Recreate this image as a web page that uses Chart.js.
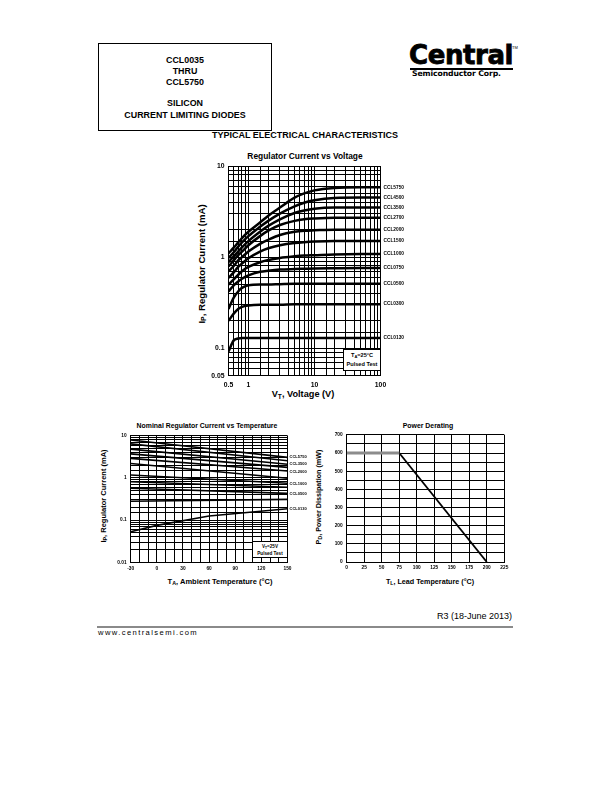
<!DOCTYPE html>
<html>
<head>
<meta charset="utf-8">
<script src="https://cdn.jsdelivr.net/npm/chart.js@4.4.1/dist/chart.umd.min.js"></script>
<style>
  html,body{margin:0;padding:0;background:#fff;}
  body{width:612px;height:792px;position:relative;overflow:hidden;font-family:"Liberation Sans",Arial,sans-serif;color:#000;}
  .abs{position:absolute;white-space:nowrap;}
  .c{transform:translate(-50%,-50%);}
  .rot{transform:translate(-50%,-50%) rotate(-90deg);}
  .b{font-weight:bold;}
  sub{font-size:72%;vertical-align:-0.25em;line-height:0;}
  canvas{position:absolute;}
  .box{position:absolute;background:#fff;border:1px solid #000;box-sizing:border-box;font-weight:bold;text-align:center;}
</style>
</head>
<body>

<!-- header box -->
<div class="abs" style="left:98px;top:43px;width:174px;height:88px;border:1px solid #000;box-sizing:border-box;"></div>
<div class="abs c b" style="left:185px;top:60px;font-size:8.9px;">CCL0035</div>
<div class="abs c b" style="left:185px;top:71px;font-size:8.9px;">THRU</div>
<div class="abs c b" style="left:185px;top:82px;font-size:8.9px;">CCL5750</div>
<div class="abs c b" style="left:185px;top:103px;font-size:8.9px;">SILICON</div>
<div class="abs c b" style="left:185px;top:114.5px;font-size:8.9px;">CURRENT LIMITING DIODES</div>

<!-- logo -->
<div class="abs" style="left:409px;top:40px;font-family:'DejaVu Sans';font-weight:bold;font-size:26px;letter-spacing:-0.4px;-webkit-text-stroke:0.8px #000;">Central</div>
<div class="abs" style="left:512px;top:45px;font-size:4px;">TM</div>
<div class="abs" style="left:410px;top:68px;width:103px;height:1.5px;background:#000;"></div>
<div class="abs" style="left:412px;top:69px;font-family:'DejaVu Sans';font-size:7.7px;font-weight:bold;letter-spacing:-0.1px;">Semiconductor Corp.</div>

<div class="abs c b" style="left:305px;top:135px;font-size:9px;">TYPICAL ELECTRICAL CHARACTERISTICS</div>

<!-- top chart texts -->
<div class="abs c b" style="left:305px;top:156px;font-size:8.4px;">Regulator Current vs Voltage</div>
<div class="abs c b" style="left:303px;top:394px;font-size:9.2px;">V<sub>T</sub>, Voltage (V)</div>
<div class="abs rot b" style="left:201px;top:264px;font-size:9.6px;">I<sub>P</sub>, Regulator Current (mA)</div>

<!-- bottom left texts -->
<div class="abs c b" style="left:207px;top:425px;font-size:6.9px;">Nominal Regulator Current vs Temperature</div>
<div class="abs c b" style="left:220px;top:581px;font-size:7.5px;">T<sub>A</sub>, Ambient Temperature (°C)</div>
<div class="abs rot b" style="left:103px;top:496px;font-size:7.5px;">I<sub>P</sub>, Regulator Current (mA)</div>

<!-- bottom right texts -->
<div class="abs c b" style="left:428px;top:425px;font-size:6.9px;">Power Derating</div>
<div class="abs c b" style="left:430px;top:581px;font-size:7.2px;">T<sub>L</sub>, Lead Temperature (°C)</div>
<div class="abs rot b" style="left:318px;top:497px;font-size:7.2px;">P<sub>D</sub>, Power Dissipation (mW)</div>

<canvas id="cTop" width="230" height="250" style="left:190px;top:150px;"></canvas>
<canvas id="cTemp" width="225" height="150" style="left:100px;top:428px;"></canvas>
<canvas id="cPow" width="190" height="150" style="left:325px;top:428px;"></canvas>

<div class="box" style="left:343px;top:349px;width:38px;height:22px;font-size:5.6px;line-height:9px;padding-top:1px;">T<sub>A</sub>=25°C<br>Pulsed Test</div>
<div class="box" style="left:252px;top:541px;width:36px;height:17px;font-size:4.6px;line-height:7px;padding-top:1px;">V<sub>T</sub>=25V<br>Pulsed Test</div>

<!-- footer -->
<div class="abs" style="right:100px;top:611px;font-size:9px;">R3 (18-June 2013)</div>
<div class="abs" style="left:97px;top:626px;width:416px;height:2px;background:#8a8a8a;"></div>
<div class="abs" style="left:98px;top:628px;font-size:7.6px;letter-spacing:1.4px;">www.centralsemi.com</div>

<script>
// ---------- DATA ----------
// Regulator Current vs Voltage (mA) at voltages (V)
const voltages = [0.5, 0.6, 0.7, 0.8, 1, 1.5, 2, 3, 5, 7, 10, 20, 50, 100];
const ccl5750 = [1.1, 1.27, 1.45, 1.62, 1.9, 2.4, 2.85, 3.5, 4.5, 5.0, 5.4, 5.75, 5.85, 5.85];
const ccl4500 = [0.98, 1.13, 1.3, 1.45, 1.7, 2.15, 2.5, 3.0, 3.6, 3.95, 4.2, 4.45, 4.5, 4.5];
const ccl3500 = [0.88, 1.02, 1.15, 1.28, 1.5, 1.9, 2.2, 2.6, 3.05, 3.25, 3.4, 3.5, 3.5, 3.5];
const ccl2700 = [0.79, 0.92, 1.05, 1.15, 1.35, 1.7, 1.95, 2.25, 2.5, 2.6, 2.65, 2.7, 2.7, 2.7];
const ccl2000 = [0.7, 0.8, 0.92, 1.0, 1.15, 1.4, 1.55, 1.75, 1.9, 1.95, 1.97, 2.0, 2.0, 2.0];
const ccl1500 = [0.59, 0.68, 0.78, 0.85, 0.97, 1.15, 1.25, 1.35, 1.43, 1.46, 1.48, 1.5, 1.5, 1.5];
const ccl1000 = [0.5, 0.57, 0.64, 0.7, 0.78, 0.88, 0.93, 0.98, 1.02, 1.04, 1.05, 1.07, 1.08, 1.08];
const ccl0750 = [0.42, 0.49, 0.54, 0.58, 0.63, 0.69, 0.71, 0.73, 0.74, 0.745, 0.75, 0.755, 0.76, 0.76];
const ccl0500 = [0.27, 0.36, 0.42, 0.46, 0.49, 0.5, 0.5, 0.505, 0.51, 0.51, 0.51, 0.51, 0.51, 0.51];
const ccl0300 = [0.2, 0.24, 0.27, 0.285, 0.295, 0.3, 0.3, 0.3, 0.305, 0.305, 0.305, 0.305, 0.305, 0.305];
const ccl0130 = [0.092, 0.122, 0.128, 0.13, 0.13, 0.13, 0.13, 0.13, 0.13, 0.13, 0.13, 0.13, 0.13, 0.13];
const vcCurves = [ccl5750, ccl4500, ccl3500, ccl2700, ccl2000, ccl1500, ccl1000, ccl0750, ccl0500, ccl0300, ccl0130];
const vcLabels = ["CCL5750", "CCL4500", "CCL3500", "CCL2700", "CCL2000", "CCL1500", "CCL1000", "CCL0750", "CCL0500", "CCL0300", "CCL0130"];
const vcLabelLevels = [5.8, 4.5, 3.5, 2.7, 2.0, 1.5, 1.08, 0.76, 0.51, 0.305, 0.13];
const vTickLabels = [0.5, 1, 10, 100];
const iTickLabels = [0.05, 0.1, 1, 10];

// Nominal Regulator Current vs Temperature (mA), straight segments -30..150 °C
const tempEnds = [-30, 150];
const tcLines = [
  [7.9, 3.07], [6.4, 2.56], [4.8, 2.1], [3.7, 1.78], [2.9, 1.46], [2.2, 0.98],
  [1.17, 0.745], [0.81, 0.6], [0.57, 0.43], [0.28, 0.31]
];
const tempLow = [-30, 0, 60, 150];
const tcLow = [0.053, 0.075, 0.125, 0.186];
const tcLabels = ["CCL5750", "CCL3500", "CCL2000", "CCL1000", "CCL0500", "CCL0130"];
const tcLabelLevels = [3.07, 2.1, 1.42, 0.72, 0.41, 0.186];
const tTickLabels = [-30, 0, 30, 60, 90, 120, 150];
const tcITickLabels = [0.01, 0.1, 1, 10];

// Power Derating
const leadTemp = [0, 75, 200];
const powerMW = [600, 600, 0];

// ---------- helpers ----------
const near = (v, arr) => arr.some(a => Math.abs(v - a) < 1e-9 * Math.max(1, Math.abs(a)) + 1e-12);
const fmt = v => String(+v.toPrecision(6));
const FONT = "'Liberation Sans', Arial, sans-serif";
Chart.defaults.font.family = FONT;
Chart.defaults.color = '#000';

function labelPlugin(id, labels, levels, size, dx) {
  return {
    id,
    afterDraw(chart) {
      const {ctx, chartArea, scales} = chart;
      ctx.save();
      ctx.fillStyle = '#000';
      ctx.font = 'bold ' + size + 'px ' + FONT;
      ctx.textBaseline = 'middle';
      ctx.textAlign = 'left';
      labels.forEach((t, i) => {
        ctx.fillText(t, chartArea.right + dx, scales.y.getPixelForValue(levels[i]));
      });
      ctx.restore();
    }
  };
}

const gridCfg = {color: '#000', lineWidth: 1, drawTicks: false};
const borderCfg = {color: '#000', width: 1};
const baseOpts = {
  responsive: false, animation: false, events: [],
  plugins: {legend: {display: false}, tooltip: {enabled: false}, title: {display: false}},
  elements: {point: {radius: 0}}
};

// ---------- top chart ----------
new Chart(document.getElementById('cTop'), {
  type: 'line',
  data: {
    datasets: vcCurves.map((c, i) => ({
      label: vcLabels[i],
      data: voltages.map((v, j) => ({x: v, y: c[j]})),
      borderColor: '#000', borderWidth: 2.5, pointRadius: 0,
      cubicInterpolationMode: 'monotone', fill: false
    }))
  },
  options: Object.assign({}, baseOpts, {
    layout: {padding: {left: 0, top: 16, right: 39.5, bottom: 0}},
    scales: {
      x: {
        type: 'logarithmic', min: 0.5, max: 100,
        afterFit: s => { s.height = 24.3; },
        grid: gridCfg, border: borderCfg,
        ticks: {autoSkip: false, maxRotation: 0, padding: 5, font: {size: 6.8, weight: 'bold'},
          callback: v => near(v, vTickLabels) ? fmt(v) : ''}
      },
      y: {
        type: 'logarithmic', min: 0.05, max: 10,
        afterFit: s => { s.width = 38.5; },
        grid: gridCfg, border: borderCfg,
        ticks: {autoSkip: false, padding: 4, font: {size: 6.8, weight: 'bold'},
          callback: v => near(v, iTickLabels) ? fmt(v) : ''}
      }
    }
  }),
  plugins: [labelPlugin('vcl', vcLabels, vcLabelLevels, 4.8, 3)]
});

// ---------- temperature chart ----------
const tcSets = tcLines.map(l => ({
  data: tempEnds.map((t, j) => ({x: t, y: l[j]})),
  borderColor: '#000', borderWidth: 1.6, pointRadius: 0, fill: false
}));
tcSets.push({
  data: tempLow.map((t, j) => ({x: t, y: tcLow[j]})),
  borderColor: '#000', borderWidth: 1.6, pointRadius: 0, fill: false
});
new Chart(document.getElementById('cTemp'), {
  type: 'line',
  data: {datasets: tcSets},
  options: Object.assign({}, baseOpts, {
    layout: {padding: {left: 0, top: 7.7, right: 37.5, bottom: 0}},
    scales: {
      x: {
        type: 'linear', min: -30, max: 150,
        afterFit: s => { s.height = 15.7; },
        grid: gridCfg, border: borderCfg,
        ticks: {stepSize: 10, autoSkip: false, maxRotation: 0, padding: 3, font: {size: 4.8, weight: 'bold'},
          callback: v => near(v, tTickLabels) ? fmt(v) : ''}
      },
      y: {
        type: 'logarithmic', min: 0.01, max: 10,
        afterFit: s => { s.width = 30.7; },
        grid: gridCfg, border: borderCfg,
        ticks: {autoSkip: false, padding: 4, font: {size: 4.8, weight: 'bold'},
          callback: v => near(v, tcITickLabels) ? fmt(v) : ''}
      }
    }
  }),
  plugins: [labelPlugin('tcl', tcLabels, tcLabelLevels, 4, 2)]
});

// ---------- power derating ----------
new Chart(document.getElementById('cPow'), {
  type: 'line',
  data: {
    datasets: [
      {data: leadTemp.slice(0, 2).map((t, j) => ({x: t, y: powerMW[j]})), borderColor: '#8c8c8c', borderWidth: 3, pointRadius: 0},
      {data: leadTemp.slice(1).map((t, j) => ({x: t, y: powerMW[j + 1]})), borderColor: '#000', borderWidth: 1.8, pointRadius: 0}
    ]
  },
  options: Object.assign({}, baseOpts, {
    layout: {padding: {left: 0, top: 6, right: 10.7, bottom: 0}},
    scales: {
      x: {
        type: 'linear', min: 0, max: 225,
        afterFit: s => { s.height = 16; },
        grid: gridCfg, border: borderCfg,
        ticks: {stepSize: 25, autoSkip: false, maxRotation: 0, padding: 3, font: {size: 4.8, weight: 'bold'}}
      },
      y: {
        type: 'linear', min: 0, max: 700,
        afterFit: s => { s.width = 21.7; },
        grid: gridCfg, border: borderCfg,
        ticks: {stepSize: 50, autoSkip: false, padding: 4, font: {size: 4.8, weight: 'bold'},
          callback: v => (v % 100 === 0) ? String(v) : ''}
      }
    }
  })
});
</script>
</body>
</html>
